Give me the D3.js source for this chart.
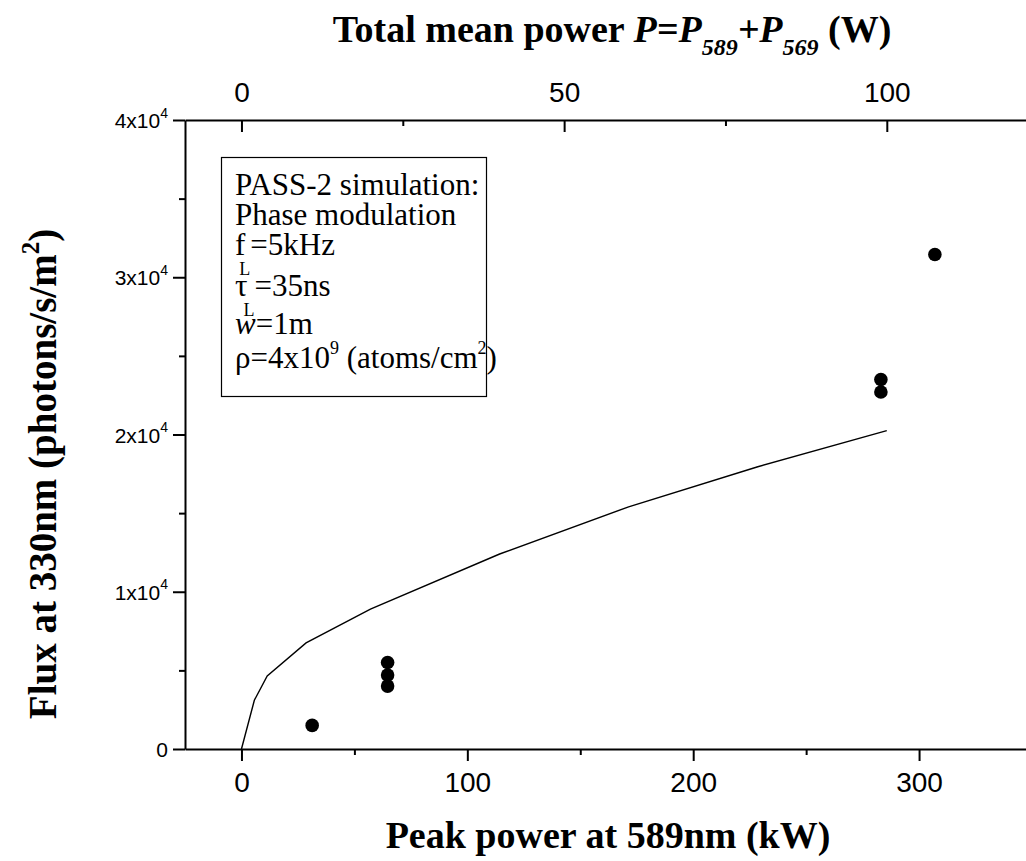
<!DOCTYPE html>
<html>
<head>
<meta charset="utf-8">
<script src="https://cdn.jsdelivr.net/npm/d3@7"></script>
<style>
  html, body { margin: 0; padding: 0; background: #fff; }
  svg { display: block; }
</style>
</head>
<body>
<svg id="chart" width="1026" height="861"></svg>
<script>
// Simulated 330 nm return flux (PASS-2) vs. peak power at 589 nm
const simPeakKW = [0, 5.7, 11.4, 28.6, 57.1, 114.3, 171.4, 228.6, 285.7];
const simFlux   = [0, 3100, 4650, 6750, 8900, 12400, 15400, 17950, 20250];

// Measured points
const measPeakKW = [31.3, 64.7, 64.7, 64.7, 283.1, 283.1, 307.0];
const measFlux   = [1500, 5500, 4700, 4000, 23500, 22700, 31450];

// Axis ticks
const peakTicks      = [0, 100, 200, 300];
const peakMinorTicks = [50, 150, 250];
const meanTicks      = [0, 50, 100];
const meanMinorTicks = [25, 75];
const fluxTicks      = [0, 10000, 20000, 30000, 40000];
const fluxMinorTicks = [5000, 15000, 25000, 35000];

// Mean power (W) = 0.35 x peak power (kW)
const meanPerPeak = 0.35;
const peakDomain = [-25, 350];

const svg = d3.select("#chart");
const plotL = 185, plotR = 1032, plotT = 120, plotB = 749;

const x = d3.scaleLinear().domain(peakDomain).range([plotL, plotR]);
const xTop = d3.scaleLinear().domain(peakDomain.map(d => d * meanPerPeak)).range([plotL, plotR]);
const y = d3.scaleLinear().domain([0, 40000]).range([plotB, plotT]);

const sans = "'Liberation Sans', Arial, sans-serif";
const serif = "'Liberation Serif', 'Times New Roman', serif";

function styleAxis(g, size) {
  g.attr("font-family", sans).attr("font-size", size);
  g.selectAll("path.domain").attr("stroke", "#000").attr("stroke-width", 2);
  g.selectAll(".tick line").attr("stroke", "#000").attr("stroke-width", 2);
  g.selectAll(".tick text").attr("fill", "#000");
}

// Bottom axis
const gB = svg.append("g").attr("transform", `translate(0,${plotB})`)
  .call(d3.axisBottom(x).tickValues(peakTicks).tickSize(12).tickSizeOuter(0).tickPadding(11).tickFormat(d3.format("d")));
styleAxis(gB, 28);
const gBm = svg.append("g").attr("transform", `translate(0,${plotB})`)
  .call(d3.axisBottom(x).tickValues(peakMinorTicks).tickSize(6).tickFormat(""));
gBm.select("path.domain").remove();
styleAxis(gBm, 28);

// Top axis (ticks point into the plot)
const gT = svg.append("g").attr("transform", `translate(0,${plotT})`)
  .call(d3.axisTop(xTop).tickValues(meanTicks).tickSize(-12).tickSizeOuter(0).tickPadding(18).tickFormat(d3.format("d")));
styleAxis(gT, 28);
const gTm = svg.append("g").attr("transform", `translate(0,${plotT})`)
  .call(d3.axisTop(xTop).tickValues(meanMinorTicks).tickSize(-6).tickFormat(""));
gTm.select("path.domain").remove();
styleAxis(gTm, 28);

// Left axis with "Nx10^4" labels
const gL = svg.append("g").attr("transform", `translate(${plotL},0)`)
  .call(d3.axisLeft(y).tickValues(fluxTicks).tickSize(12).tickSizeOuter(0).tickPadding(5));
styleAxis(gL, 21);
gL.selectAll(".tick text").each(function(d) {
  const t = d3.select(this).text(null).attr("dy", "0.36em");
  if (d === 0) { t.text("0"); return; }
  t.append("tspan").text(`${d / 10000}x10`);
  t.append("tspan").attr("font-size", 14).attr("dy", "-0.75em").text("4");
});
const gLm = svg.append("g").attr("transform", `translate(${plotL},0)`)
  .call(d3.axisLeft(y).tickValues(fluxMinorTicks).tickSize(6).tickFormat(""));
gLm.select("path.domain").remove();
styleAxis(gLm, 21);

// Simulation curve
const line = d3.line().x(d => x(d[0])).y(d => y(d[1]));
svg.append("path")
  .datum(simPeakKW.map((p, i) => [p, simFlux[i]]))
  .attr("d", line)
  .attr("fill", "none")
  .attr("stroke", "#000")
  .attr("stroke-width", 1.4);

// Measured points
svg.append("g").selectAll("circle")
  .data(measPeakKW.map((p, i) => [p, measFlux[i]]))
  .join("circle")
  .attr("cx", d => x(d[0]))
  .attr("cy", d => y(d[1]))
  .attr("r", 6.8)
  .attr("fill", "#000");

// Axis titles
const topTitle = svg.append("text")
  .attr("x", 612).attr("y", 42)
  .attr("text-anchor", "middle")
  .attr("font-family", serif).attr("font-weight", "bold").attr("font-size", 38);
topTitle.append("tspan").text("Total mean power ");
topTitle.append("tspan").attr("font-style", "italic").text("P=P");
topTitle.append("tspan").attr("font-style", "italic").attr("font-size", 24).attr("dy", 13).text("589");
topTitle.append("tspan").attr("font-style", "italic").attr("dy", -13).text("+P");
topTitle.append("tspan").attr("font-style", "italic").attr("font-size", 24).attr("dy", 13).text("569");
topTitle.append("tspan").attr("dy", -13).text(" (W)");

svg.append("text")
  .attr("x", 608).attr("y", 848)
  .attr("text-anchor", "middle")
  .attr("font-family", serif).attr("font-weight", "bold").attr("font-size", 38)
  .text("Peak power at 589nm (kW)");

const yTitle = svg.append("text")
  .attr("transform", "translate(56,474) rotate(-90)")
  .attr("text-anchor", "middle")
  .attr("font-family", serif).attr("font-weight", "bold").attr("font-size", 39);
yTitle.append("tspan").text("Flux at 330nm (photons/s/m");
yTitle.append("tspan").attr("font-size", 25).attr("dy", -17).text("2");
yTitle.append("tspan").attr("dy", 17).text(")");

// Parameter box
const box = svg.append("g");
const boxBaselines = [195, 225, 255, 296, 334, 368];
box.append("rect")
  .attr("x", 221.5).attr("y", 157.5).attr("width", 265).attr("height", 239)
  .attr("fill", "#fff").attr("stroke", "#000").attr("stroke-width", 1.2);

const bx = 235, fs = 31;
function boxLine(i) {
  return box.append("text")
    .attr("x", bx).attr("y", boxBaselines[i])
    .attr("font-family", serif).attr("font-size", fs).attr("fill", "#000");
}
boxLine(0).text("PASS-2 simulation:");
boxLine(1).text("Phase modulation");
let t = boxLine(2);
t.append("tspan").text("f");
t.append("tspan").attr("font-size", 18).attr("dy", 20).attr("dx", -6).text("L");
t.append("tspan").attr("dy", -20).text("=5kHz");
t = boxLine(3);
t.append("tspan").text("τ");
t.append("tspan").attr("font-size", 18).attr("dy", 20).attr("dx", -4).text("L");
t.append("tspan").attr("dy", -20).text("=35ns");
t = boxLine(4);
t.append("tspan").attr("font-style", "italic").text("w");
t.append("tspan").text("=1m");
t = boxLine(5);
t.append("tspan").text("ρ=4x10");
t.append("tspan").attr("font-size", 18).attr("dy", -14).text("9");
t.append("tspan").attr("dy", 14).text(" (atoms/cm");
t.append("tspan").attr("font-size", 18).attr("dy", -14).text("2");
t.append("tspan").attr("dy", 14).text(")");
</script>
</body>
</html>
